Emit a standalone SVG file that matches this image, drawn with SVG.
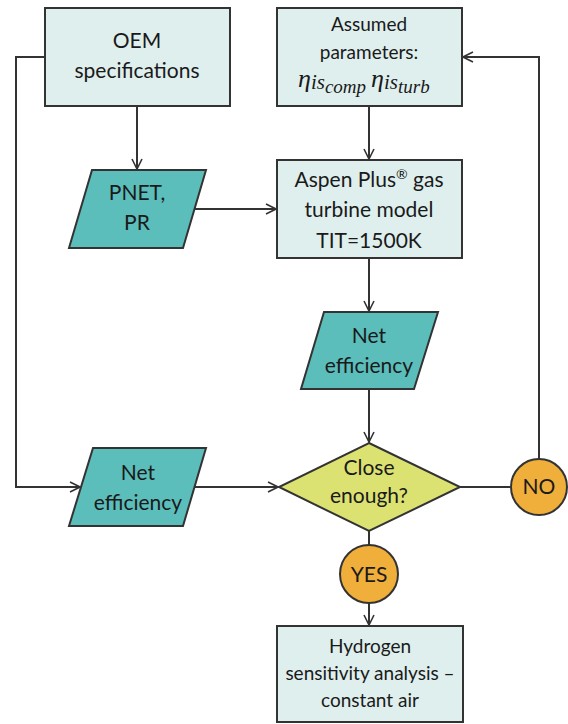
<svg xmlns="http://www.w3.org/2000/svg" width="568" height="724" viewBox="0 0 568 724">
<defs>
<marker id="arr" viewBox="0 0 12 12" refX="11" refY="6" markerWidth="12" markerHeight="12" markerUnits="userSpaceOnUse" orient="auto">
<path d="M1,1 L11,6 L1,11" fill="none" stroke="#333" stroke-width="1.6"/>
</marker>
<style>
.box{fill:#dfefee;stroke:#333;stroke-width:2}
.io{fill:#5bbebb;stroke:#333;stroke-width:2}
.dec{fill:#dce272;stroke:#333;stroke-width:2}
.term{fill:#f0ae3b;stroke:#333;stroke-width:2}
.t{font-family:Lato,"Open Sans","Liberation Sans",sans-serif;font-size:21px;fill:#1a1a1a;text-anchor:middle}
.s{font-size:19px}
.c{fill:none;stroke:#333;stroke-width:2}
.m{font-family:"Liberation Serif","DejaVu Serif",serif;font-style:italic;fill:#1a1a1a}
</style>
</defs>
<g id="connectors">
<path class="c" d="M137,106 V169" marker-end="url(#arr)"/>
<path class="c" d="M369,106 V159" marker-end="url(#arr)"/>
<path class="c" d="M195,209 H276" marker-end="url(#arr)"/>
<path class="c" d="M45,57 H16 V487 H80" marker-end="url(#arr)"/>
<path class="c" d="M369,258 V311" marker-end="url(#arr)"/>
<path class="c" d="M369,389 V442" marker-end="url(#arr)"/>
<path class="c" d="M195,487 H278" marker-end="url(#arr)"/>
<path class="c" d="M460,487 H510"/>
<path class="c" d="M539,459 V57 H463" marker-end="url(#arr)"/>
<path class="c" d="M369,531 V545"/>
<path class="c" d="M369,603 V625" marker-end="url(#arr)"/>
</g>
<g id="oem">
<rect class="box" x="45" y="8" width="185" height="98"/>
<text class="t" x="137" y="48">OEM</text>
<text class="t" x="137" y="78">specifications</text>
</g>
<g id="assumed">
<rect class="box" x="277" y="8" width="185" height="98"/>
<text class="t s" x="369" y="31">Assumed</text>
<text class="t s" x="369" y="59">parameters:</text>
<text class="m" x="298" y="87" font-size="26">η<tspan font-size="21" dy="2">is</tspan><tspan font-size="19" dy="4">comp</tspan><tspan font-size="26" dy="-6" dx="5">η</tspan><tspan font-size="21" dy="2">is</tspan><tspan font-size="19" dy="4">turb</tspan></text>
</g>
<g id="pnet">
<polygon class="io" points="92,170 206,170 183,248 69,248"/>
<text class="t" x="137" y="200">PNET,</text>
<text class="t" x="137" y="230">PR</text>
</g>
<g id="aspen">
<rect class="box" x="277" y="160" width="185" height="98"/>
<text class="t" x="369" y="187">Aspen Plus<tspan font-size="14" dy="-8">®</tspan><tspan dy="8"> gas</tspan></text>
<text class="t" x="369" y="217">turbine model</text>
<text class="t" x="369" y="248">TIT=1500K</text>
</g>
<g id="net-mid">
<polygon class="io" points="324,312 438,312 414,389 301,389"/>
<text class="t" x="369" y="343">Net</text>
<text class="t" x="369" y="373">efficiency</text>
</g>
<g id="net-left">
<polygon class="io" points="93,448 206,448 183,526 69,526"/>
<text class="t" x="138" y="480">Net</text>
<text class="t" x="138" y="510">efficiency</text>
</g>
<g id="decision">
<polygon class="dec" points="369,443 460,487 369,531 279,487"/>
<text class="t" x="369" y="475">Close</text>
<text class="t" x="369" y="503">enough?</text>
</g>
<g id="no">
<circle class="term" cx="539" cy="487" r="28"/>
<text class="t" x="539" y="494">NO</text>
</g>
<g id="yes">
<circle class="term" cx="369" cy="574" r="29"/>
<text class="t" x="369" y="582">YES</text>
</g>
<g id="hydrogen">
<rect class="box" x="277" y="626" width="186" height="96"/>
<text class="t s" x="370" y="653">Hydrogen</text>
<text class="t s" x="370" y="680">sensitivity analysis –</text>
<text class="t s" x="370" y="707">constant air</text>
</g>
</svg>
